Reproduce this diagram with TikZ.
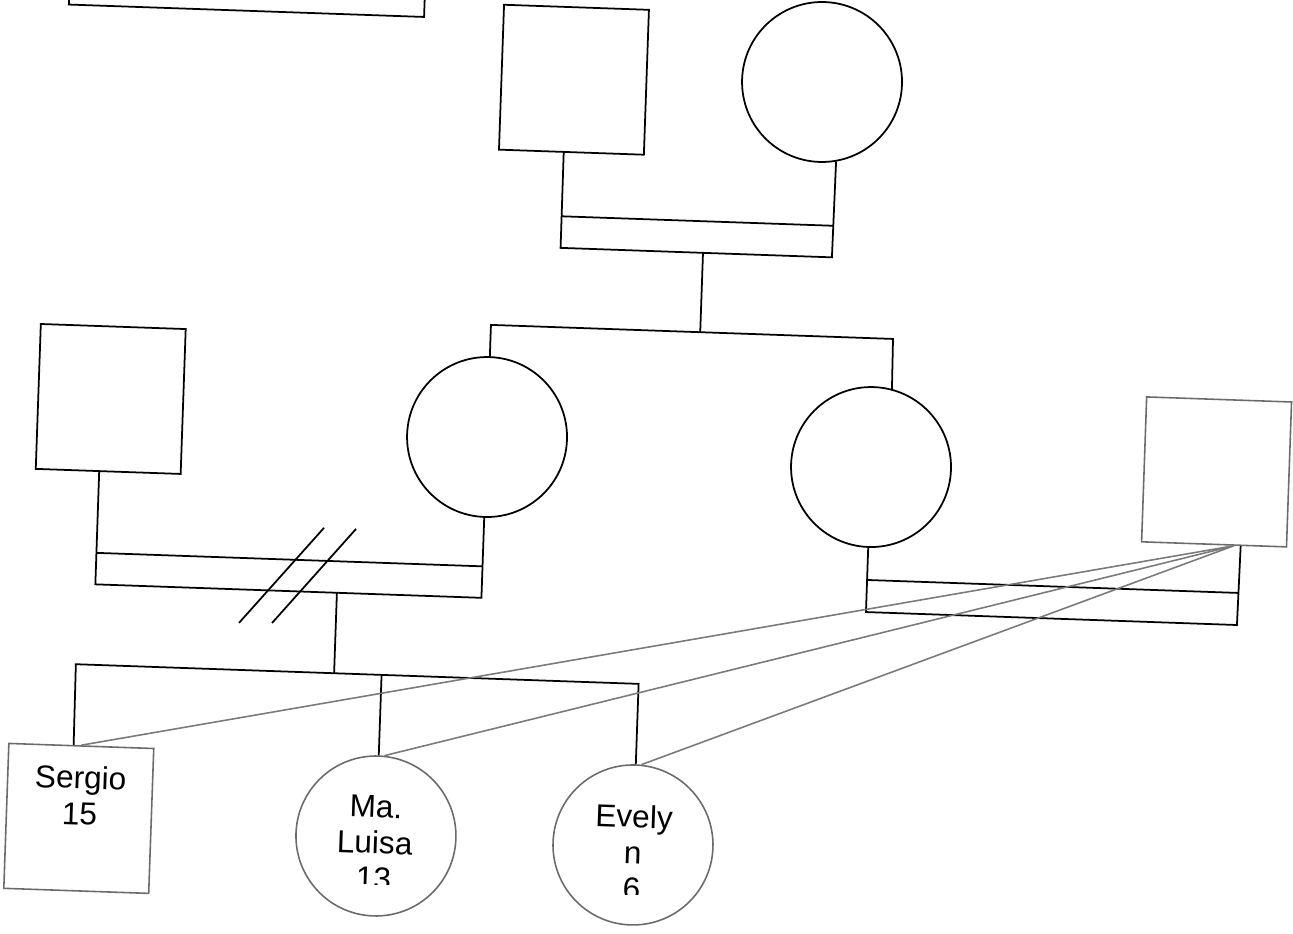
\documentclass[tikz,border=0pt]{standalone}
\usepackage{fontspec}
\setmainfont{Liberation Sans}
\usepackage{xcolor}
\usepackage{tikz}
\usetikzlibrary{shapes.geometric, positioning}

\definecolor{kidgray}{gray}{0.42}
\definecolor{tiegray}{gray}{0.48}

\begin{document}
\begin{tikzpicture}[
    x=0.02cm, y=-0.02cm,
    male/.style={draw, rectangle, minimum size=2.9cm, inner sep=0pt, line width=1pt},
    female/.style={draw, circle, minimum size=3.2cm, inner sep=0pt, line width=1pt},
    grey/.style={draw=kidgray, line width=0.9pt},
    kidname/.style={align=center, inner sep=0pt, font=\fontsize{18}{20.5}\selectfont},
    link/.style={line width=1pt},
    tie/.style={draw=tiegray, line width=0.9pt},
]
\useasboundingbox (0,0) rectangle (1293,933);
\clip (0,0) rectangle (1293,933);

\begin{scope}[rotate around={-2:(646.5,466.5)}, transform shape]

% Box cut at the top edge
\node[male, minimum width=7.11cm, minimum height=3cm] (topbox) at (230.8,-50) {};

% Grandparents
\node[male] (gfather) at (560.5,82.5) {};
\node[female] (gmother) at (808.5,76.1) {};

% Parents' generation
\node[male] (father) at (108.7,417.7) {};
\node[female] (mother) at (486.1,442.6) {};
\node[female] (aunt) at (870.9,459.2) {};
\node[male, grey] (uncle) at (1216.4,452) {};

% Children
\node[male, grey] (sergio) at (91.4,838) {};
\node[female, grey] (mluisa) at (389,845.2) {};
\node[female, grey] (evelyn) at (646.2,845.2) {};

% Names
\node[kidname] (sergioname) at (92,815.1) {Sergio\\15};
\begin{scope}
    \clip (300,780) rectangle (480,893.5);
    \node[kidname] (mluisaname) at (388,852) {Ma.\\Luisa\\13};
\end{scope}
\begin{scope}
    \clip (560,780) rectangle (730,895);
    \node[kidname] (evelynname) at (646.3,852.5) {Evely\\n\\6};
\end{scope}

% Grandparents' couple bar
\coordinate (gpUL) at (553,219.4);
\coordinate (gpUR) at (824.5,219.4);
\coordinate (gpLL) at (553,251);
\coordinate (gpLR) at (824.5,251);
\draw[link] (gfather.-96) -- (gpLL) -- (gpLR) -- (gmother.-78.5);
\draw[link] (gpUL) -- (gpUR);

% Grandparents to daughters
\coordinate (gpD) at (695.5,251);
\coordinate (sibD) at (695.5,330.4);
\coordinate (sibL) at (486.1,330.4);
\coordinate (sibR) at (888.4,330.4);
\draw[link] (gpD) -- (sibD);
\draw[link] (mother.north) -- (sibL) -- (sibR) -- (aunt.77.4);

% Parents' couple bar (divorced)
\coordinate (fbUL) at (99.8,572);
\coordinate (fbUR) at (486.1,572);
\coordinate (fbLL) at (99.8,603.5);
\coordinate (fbLR) at (486.1,603.5);
\draw[link] (father.-97) -- (fbLL) -- (fbLR) -- (mother.south);
\draw[link] (fbUL) -- (fbUR);
\coordinate (cutA1) at (244.7,637);
\coordinate (cutA2) at (326.4,539);
\coordinate (cutB1) at (277.7,636);
\coordinate (cutB2) at (358.4,539);
\draw[link] (cutA1) -- (cutA2);
\draw[link] (cutB1) -- (cutB2);

% Parents to children
\coordinate (fbD) at (341.5,603.5);
\coordinate (kidD) at (341.5,684);
\coordinate (kidL) at (83.1,684);
\coordinate (kidM) at (389,684);
\coordinate (kidR) at (646.2,684);
\draw[link] (fbD) -- (kidD);
\draw[link] (sergio.96.5) -- (kidL) -- (kidR) -- (evelyn.north);
\draw[link] (kidM) -- (mluisa.north);

% Aunt's couple bar
\coordinate (abUL) at (870.9,572.2);
\coordinate (abUR) at (1242.1,572.2);
\coordinate (abLL) at (870.9,604.3);
\coordinate (abLR) at (1242.1,604.3);
\draw[link] (aunt.south) -- (abLL) -- (abLR) -- (uncle.-70.5);
\draw[link] (abUL) -- (abUR);

% Uncle to the children
\draw[tie] (uncle.-75.3) -- (sergio.north);
\draw[tie] (uncle.-75.3) -- (mluisa.86.3);
\draw[tie] (uncle.-75.3) -- (evelyn.86.4);

\end{scope}
\end{tikzpicture}
\end{document}
